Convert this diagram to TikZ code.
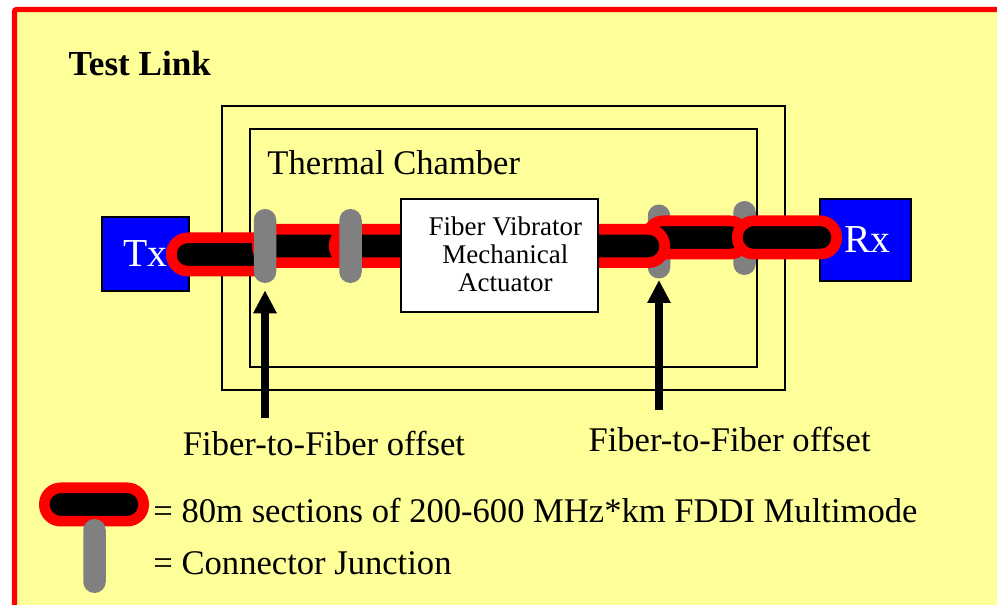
\documentclass[tikz,border=0pt]{standalone}
\usepackage{fontspec}
\setmainfont{Liberation Serif}
\usetikzlibrary{arrows.meta}
\definecolor{panelfill}{HTML}{FFFF99}
\definecolor{paneledge}{HTML}{FF0000}
\definecolor{boxfill}{HTML}{0000FF}
\definecolor{fiberedge}{HTML}{FF0000}
\definecolor{junctfill}{HTML}{808080}
\begin{document}
\begin{tikzpicture}[
  chamber/.style={rectangle, draw=black, line width=0.9pt},
  endbox/.style={rectangle, draw=black, fill=boxfill, line width=0.9pt, text=white,
                 inner sep=0pt, font=\fontsize{28.2}{30}\selectfont},
  section/.style={rectangle, rounded corners=0.41cm, draw=fiberedge, fill=black,
                  line width=0.2675cm, minimum width=2.4825cm, minimum height=0.8325cm,
                  inner sep=0pt},
  junction/.style={rectangle, rounded corners=0.28cm, fill=junctfill,
                   minimum width=0.5625cm, minimum height=1.85cm, inner sep=0pt},
  vibbox/.style={rectangle, draw=black, fill=white, line width=0.9pt,
                 minimum width=4.925cm, minimum height=2.825cm},
  lab/.style={inner sep=0pt, font=\fontsize{24.6}{28}\selectfont},
  pointer/.style={draw=black, line width=0.2cm, -{Triangle[length=5.75mm, width=5.5mm]}},
]
\clip (0,0) rectangle (24.925,15.125);
% ================= panel =============================
\draw[draw=paneledge, fill=panelfill, line width=0.13cm, rounded corners=0.05cm]
  (0.3625,-1) rectangle (26,14.8875);
\node[lab, anchor=west, font=\fontsize{25}{28}\selectfont\bfseries] (title) at (1.71,13.55) {Test Link};
% ================= thermal chamber ===================
\node[chamber, minimum width=14.075cm, minimum height=7.1cm] (outer) at (12.5875,8.925) {};
\node[chamber, minimum width=12.675cm, minimum height=5.95cm] (inner) at (12.5875,8.925) {};
\node[lab, anchor=west] (chamberlab) at (6.68,11.05) {Thermal Chamber};
% ================= link ==============================
\node[junction] (j3) at (16.475,9.0875) {};
\node[junction] (j4) at (18.6125,9.175) {};
\node[endbox, minimum width=2.175cm, minimum height=1.85cm] (tx) at (3.6375,8.775) {Tx};
\node[endbox, minimum width=2.275cm, minimum height=2.05cm] (rx) at (21.6375,9.125) {\hspace{0.1cm}Rx};
\node[section] (s1) at (5.525,8.7625) {};
\node[section] (s2) at (7.675,8.975) {};
\node[section] (s4) at (17.4125,9.1875) {};
\node[section, minimum width=8.26cm] (s3) at (12.4875,8.975) {};
\node[section] (s5) at (19.675,9.1875) {};
\node[junction] (j1) at (6.625,8.975) {};
\node[junction] (j2) at (8.7625,8.975) {};
\node[vibbox] (vibrator) at (12.4875,8.7375) {};
\node[align=center, inner sep=0pt, font=\fontsize{19.2}{20}\selectfont] (vibtext) at (12.635,8.76)
  {Fiber Vibrator\\Mechanical\\Actuator};
% ================= offset pointers ===================
\node[lab] (off1) at (8.1,4.05) {Fiber-to-Fiber offset};
\node[lab] (off2) at (18.24,4.15) {Fiber-to-Fiber offset};
\coordinate (tail1) at (6.625,4.675);
\coordinate (tail2) at (16.475,4.875);
\draw[pointer, shorten >=0.175cm] (tail1) -- (j1);
\draw[pointer, shorten >=0.03cm] (tail2) -- (j3);
% ================= legend ============================
\node[section] (legsec) at (2.35,2.5125) {};
\node[junction] (legjun) at (2.3625,1.225) {};
\node[lab, anchor=west] (legtxt1) at (3.83,2.37) {= 80m sections of 200-600 MHz*km FDDI Multimode};
\node[lab, anchor=west] (legtxt2) at (3.83,1.05) {= Connector Junction};
\end{tikzpicture}
\end{document}
